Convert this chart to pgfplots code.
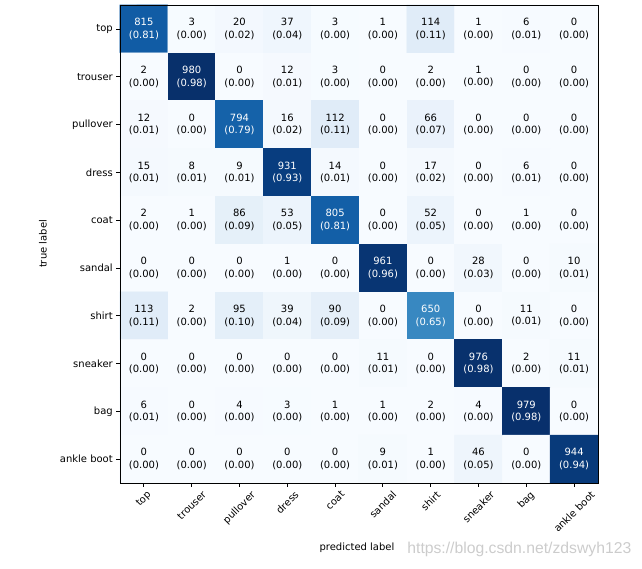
\documentclass[border=0pt]{standalone}
\usepackage{fontspec}
\setmainfont{DejaVu Sans}
\newfontfamily\wmfont{Liberation Sans}
\usepackage{graphicx}
\usepackage{pgfplots}
\usepackage{pgfplotstable}
\pgfplotsset{compat=1.18}

\pgfplotstableread{
x y n f w
0 0 815 0.81 1
1 0 3 0.00 0
2 0 20 0.02 0
3 0 37 0.04 0
4 0 3 0.00 0
5 0 1 0.00 0
6 0 114 0.11 0
7 0 1 0.00 0
8 0 6 0.01 0
9 0 0 0.00 0
0 1 2 0.00 0
1 1 980 0.98 1
2 1 0 0.00 0
3 1 12 0.01 0
4 1 3 0.00 0
5 1 0 0.00 0
6 1 2 0.00 0
7 1 1 0.00 0
8 1 0 0.00 0
9 1 0 0.00 0
0 2 12 0.01 0
1 2 0 0.00 0
2 2 794 0.79 1
3 2 16 0.02 0
4 2 112 0.11 0
5 2 0 0.00 0
6 2 66 0.07 0
7 2 0 0.00 0
8 2 0 0.00 0
9 2 0 0.00 0
0 3 15 0.01 0
1 3 8 0.01 0
2 3 9 0.01 0
3 3 931 0.93 1
4 3 14 0.01 0
5 3 0 0.00 0
6 3 17 0.02 0
7 3 0 0.00 0
8 3 6 0.01 0
9 3 0 0.00 0
0 4 2 0.00 0
1 4 1 0.00 0
2 4 86 0.09 0
3 4 53 0.05 0
4 4 805 0.81 1
5 4 0 0.00 0
6 4 52 0.05 0
7 4 0 0.00 0
8 4 1 0.00 0
9 4 0 0.00 0
0 5 0 0.00 0
1 5 0 0.00 0
2 5 0 0.00 0
3 5 1 0.00 0
4 5 0 0.00 0
5 5 961 0.96 1
6 5 0 0.00 0
7 5 28 0.03 0
8 5 0 0.00 0
9 5 10 0.01 0
0 6 113 0.11 0
1 6 2 0.00 0
2 6 95 0.10 0
3 6 39 0.04 0
4 6 90 0.09 0
5 6 0 0.00 0
6 6 650 0.65 1
7 6 0 0.00 0
8 6 11 0.01 0
9 6 0 0.00 0
0 7 0 0.00 0
1 7 0 0.00 0
2 7 0 0.00 0
3 7 0 0.00 0
4 7 0 0.00 0
5 7 11 0.01 0
6 7 0 0.00 0
7 7 976 0.98 1
8 7 2 0.00 0
9 7 11 0.01 0
0 8 6 0.01 0
1 8 0 0.00 0
2 8 4 0.00 0
3 8 3 0.00 0
4 8 1 0.00 0
5 8 1 0.00 0
6 8 2 0.00 0
7 8 4 0.00 0
8 8 979 0.98 1
9 8 0 0.00 0
0 9 0 0.00 0
1 9 0 0.00 0
2 9 0 0.00 0
3 9 0 0.00 0
4 9 0 0.00 0
5 9 9 0.01 0
6 9 1 0.00 0
7 9 46 0.05 0
8 9 0 0.00 0
9 9 944 0.94 1
}\cmdata

\pgfplotsset{
  celltext/.style={draw=none, mark=none,
    point meta=explicit,
    visualization depends on={\thisrow{f}\as\fr},
    nodes near coords={\pgfmathprintnumber[fixed,precision=0,assume math mode=true]{\pgfplotspointmeta}\\(\pgfmathprintnumber[fixed,fixed zerofill,precision=2,assume math mode=true]{\fr})},
    every node near coord/.append style={anchor=center, align=center, inner sep=0pt,
      font=\fontsize{7.5}{9.4}\selectfont, text=#1},
  },
}

\begin{document}
\begin{tikzpicture}
\begin{axis}[
  scale only axis, width=358.5pt, height=358.5pt,
  xmin=-0.5, xmax=9.5, ymin=-0.5, ymax=9.5,
  y dir=reverse,
  axis on top,
  axis line style={line width=0.6pt},
  colormap={blues}{rgb255=(247,251,255) rgb255=(222,235,247) rgb255=(198,219,239) rgb255=(158,202,225) rgb255=(107,174,214) rgb255=(66,146,198) rgb255=(33,113,181) rgb255=(8,81,156) rgb255=(8,48,107)},
  point meta min=0, point meta max=980,
  xtick={0,1,2,3,4,5,6,7,8,9}, ytick={0,1,2,3,4,5,6,7,8,9},
  xticklabels={{\rotatebox{45}{top}},{\rotatebox{45}{trouser}},{\rotatebox{45}{pullover}},{\rotatebox{45}{dress}},{\rotatebox{45}{coat}},{\rotatebox{45}{sandal}},{\rotatebox{45}{shirt}},{\rotatebox{45}{sneaker}},{\rotatebox{45}{bag}},{\rotatebox{45}{ankle boot}}},
  yticklabels={top,trouser,pullover,dress,coat,sandal,shirt,sneaker,bag,ankle boot},
  tick align=outside, tick pos=left,
  major tick length=2.625pt,
  every tick/.style={black, line width=0.6pt},
  tick label style={font=\fontsize{7.5}{9}\selectfont},
  xticklabel style={anchor=north, inner sep=0pt, yshift=-2.6pt},
  yticklabel style={anchor=east, inner sep=0pt, xshift=-2.6pt},
  clip=false,
]
\addplot[matrix plot*, mesh/cols=10, point meta=explicit] table[x=x, y=y, meta=n] {\cmdata};
\addplot[celltext=black, restrict expr to domain={\thisrow{w}}{-0.5:0.5}] table[x=x, y=y, meta=n] {\cmdata};
\addplot[celltext=white, restrict expr to domain={\thisrow{w}}{0.5:1.5}] table[x=x, y=y, meta=n] {\cmdata};
\coordinate (A) at (axis description cs:0,0);
\coordinate (B) at (axis description cs:1,1);
\node[rotate=90, anchor=center, font=\fontsize{7.5}{9}\selectfont] at ([xshift=-57.75pt]axis description cs:0,0.5) {true label};
\node[anchor=center, font=\fontsize{7.5}{9}\selectfont] at ([xshift=-1.5pt, yshift=-48.75pt]axis description cs:0.5,0) {predicted label};
\end{axis}
\node[anchor=center, text=black!20, font=\wmfont\fontsize{11.8}{13}\selectfont] at ([xshift=299.5pt, yshift=-49.5pt]A) {https://blog.csdn.net/zdswyh123};
\pgfresetboundingbox
\path ([xshift=-90pt, yshift=-64.5pt]A) rectangle ([xshift=33pt, yshift=3.75pt]B);
\end{tikzpicture}
\end{document}
